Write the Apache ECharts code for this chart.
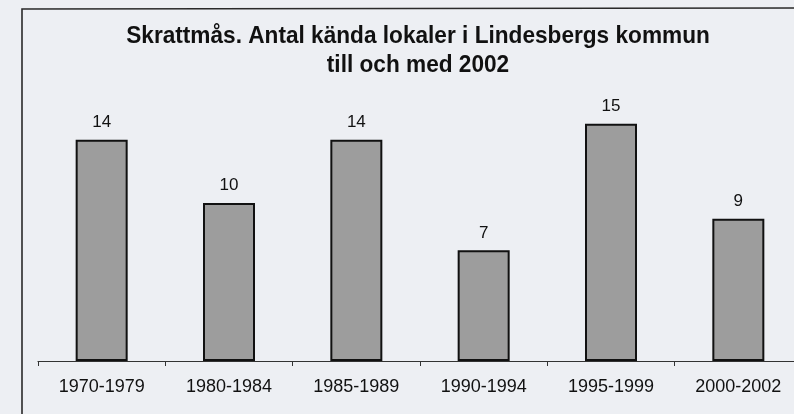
<!DOCTYPE html>
<html><head><meta charset="utf-8">
<script src="https://cdn.jsdelivr.net/npm/echarts@6/dist/echarts.min.js"></script>
<style>html,body{margin:0;padding:0;background:#edeff3;}#c{width:794px;height:414px;}</style>
</head><body><div id="c"></div>
<script>
const categories = ['1970-1979','1980-1984','1985-1989','1990-1994','1995-1999','2000-2002'];
const values = [14, 10, 14, 7, 15, 9];
const titleLines = ['Skrattmås. Antal kända lokaler i Lindesbergs kommun', 'till och med 2002'];

const titleFont = 'bold 24px "Liberation Sans", Arial, sans-serif';
const chart = echarts.init(document.getElementById('c'));
chart.setOption({
  backgroundColor: '#edeff3',
  animation: false,
  graphic: [
    {type: 'polyline', shape: {points: [[22, 414], [22, 9], [794, 8]]}, style: {stroke: '#2a2a2a', lineWidth: 1.6, fill: null}},
    {type: 'text', x: 418, y: 36, scaleX: 0.943, style: {text: titleLines[0], font: titleFont, fill: '#111', align: 'center', verticalAlign: 'middle'}},
    {type: 'text', x: 418, y: 65, scaleX: 0.943, style: {text: titleLines[1], font: titleFont, fill: '#111', align: 'center', verticalAlign: 'middle'}}
  ],
  grid: {left: 38, width: 764, top: 108, height: 253, containLabel: false, outerBoundsMode: 'none'},
  xAxis: {
    type: 'category', data: categories,
    axisLine: {lineStyle: {color: '#333', width: 1.2}},
    axisTick: {show: true, length: 5, lineStyle: {color: '#333'}},
    axisLabel: {fontFamily: 'Liberation Sans, Arial', fontSize: 18, color: '#111', margin: 17}
  },
  yAxis: {type: 'value', min: 0, max: 16, show: false, splitLine: {show: false}},
  series: [{
    type: 'bar', data: values, barWidth: 52,
    itemStyle: {color: '#9d9d9d', borderColor: '#111', borderWidth: 2},
    label: {show: true, position: 'top', distance: 9, fontFamily: 'Liberation Sans, Arial', fontSize: 17, color: '#111'}
  }]
});
</script></body></html>
